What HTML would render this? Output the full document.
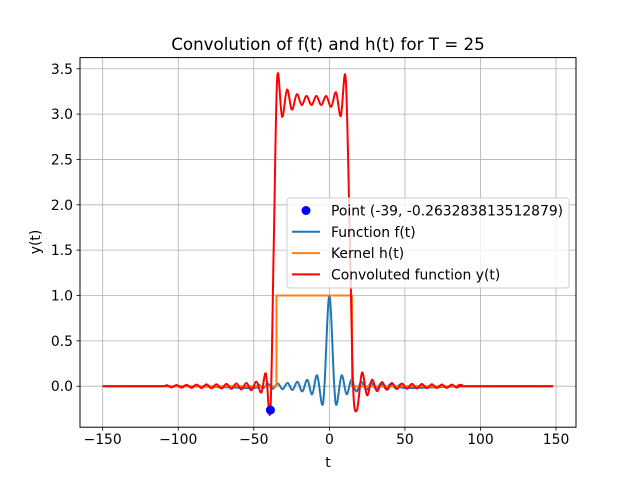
<!DOCTYPE html>
<html><head><meta charset="utf-8"><style>
body{margin:0;background:#fff}
svg text{font-family:"DejaVu Sans","Liberation Sans",sans-serif;fill:#000}
</style></head><body>
<svg id="chart" width="640" height="480" xmlns="http://www.w3.org/2000/svg">
<rect width="640" height="480" fill="#fff"/>
<text x="328" y="50" font-size="16.7" text-anchor="middle">Convolution of f(t) and h(t) for T = 25</text>
<g id="grid"></g><g id="series"></g>
<rect x="80" y="57.6" width="496" height="369.6" fill="none" stroke="#000" stroke-width="1"/>
<g id="ticks"></g>
<text x="328" y="467" font-size="13.9" text-anchor="middle">t</text>
<text transform="translate(40,242) rotate(-90)" font-size="13.9" text-anchor="middle">y(t)</text>
<g id="legend"></g>
</svg>
<script>
const xTicks=[-150,-100,-50,0,50,100,150];
const yTicks=[0.0,0.5,1.0,1.5,2.0,2.5,3.0,3.5];
const fT=[-150,-90,-50.4,-47.1,-43.9,-40.6,-37.4,-34.1,-30.9,-27.6,-24.4,-21.1,-17.9,-14.6,-11.4,-8.1,-4.9,-3.25,0,3.25,4.9,8.1,11.4,14.6,17.9,21.1,24.4,27.6,30.9,34.1,37.4,40.6,43.9,47.1,50.4,90,148];
const fY=[0,0,-0.02,0.022,-0.023,0.025,-0.028,0.03,-0.033,0.037,-0.042,0.049,-0.058,0.07,-0.09,0.12,-0.2,0,1,0,-0.2,0.12,-0.09,0.07,-0.058,0.049,-0.042,0.037,-0.033,0.03,-0.028,0.025,-0.023,0.022,-0.02,0,0];
const hT=[-150,-35,-35,15,15,148];
const hY=[0,0,1,1,0,0];
const yT=[-150,-111,-107.7,-104.4,-101.1,-97.8,-94.5,-91.2,-87.9,-84.6,-81.3,-78,-74.7,-71.4,-68.1,-64.8,-61.5,-58.2,-54.9,-51.6,-48.3,-45,-42,-39,-36.8,-34.5,-31.3,-28.0,-24.8,-21.5,-18.3,-15.1,-11.8,-8.6,-5.4,-2.1,1.2,4.4,7.6,10.8,13.4,15.7,18.3,21.6,24.9,28.2,31.5,34.8,38.1,41.4,44.7,48,51.3,54.6,57.9,61.2,64.5,67.8,71.1,74.4,77.7,81,84.3,87.6,90,148];
const yY=[0,0,0.012,-0.014,0.013,-0.016,0.015,-0.018,0.017,-0.02,0.02,-0.023,0.022,-0.026,0.026,-0.03,0.03,-0.036,0.036,-0.045,0.05,-0.07,0.14,-0.263,1.55,3.4,2.97,3.27,3.05,3.22,3.1,3.2,3.1,3.2,3.1,3.2,3.08,3.24,2.98,3.4,1.75,0,-0.26,0.15,-0.1,0.07,-0.055,0.045,-0.04,0.035,-0.032,0.03,-0.028,0.026,-0.025,0.024,-0.022,0.021,-0.02,0.019,-0.018,0.017,-0.016,0.015,0,0];
const pointT=[-39], pointY=[-0.263283813512879];
const NS="http://www.w3.org/2000/svg";
const X0=80,X1=576,Y0=427.2,Y1=57.6,xmin=-165,xmax=163.2,ymin=-0.452,ymax=3.623;
function sx(v){return X0+(v-xmin)/(xmax-xmin)*(X1-X0);}
function sy(v){return Y0-(v-ymin)/(ymax-ymin)*(Y0-Y1);}
function mk(tag,attrs,parent){const e=document.createElementNS(NS,tag);for(const k in attrs)e.setAttribute(k,attrs[k]);parent.appendChild(e);return e;}
const grid=document.getElementById('grid'),ticks=document.getElementById('ticks'),ser=document.getElementById('series'),leg=document.getElementById('legend');
xTicks.forEach(v=>{const x=sx(v);
 const g=mk('line',{x1:x,x2:x,y1:Y1,y2:Y0,stroke:'#b0b0b0','stroke-width':0.8},grid);
 
 
 mk('line',{x1:x,x2:x,y1:Y0,y2:Y0+3.5,stroke:'#000','stroke-width':0.8},ticks);
 const t=mk('text',{x:x,y:Y0+17,'font-size':13.9,'text-anchor':'middle'},ticks);t.textContent=(v<0?'\u2212'+(-v):v);
 
 });
yTicks.forEach(v=>{const y=sy(v);
 const g=mk('line',{x1:X0,x2:X1,y1:y,y2:y,stroke:'#b0b0b0','stroke-width':0.8},grid);
 
 
 mk('line',{x1:X0-3.5,x2:X0,y1:y,y2:y,stroke:'#000','stroke-width':0.8},ticks);
 const t=mk('text',{x:X0-7,y:y+5,'font-size':13.9,'text-anchor':'end'},ticks);t.textContent=v.toFixed(1);
 
 });
function smooth(T,Y){const p=T.map((t,i)=>[sx(t),sy(Y[i])]);let d='M'+p[0][0]+','+p[0][1];
 for(let i=0;i<p.length-1;i++){const a=p[Math.max(0,i-1)],b=p[i],c=p[i+1],e=p[Math.min(p.length-1,i+2)];
  const k=1/6;d+=' C'+(b[0]+(c[0]-a[0])*k)+','+(b[1]+(c[1]-a[1])*k)+' '+(c[0]-(e[0]-b[0])*k)+','+(c[1]-(e[1]-b[1])*k)+' '+c[0]+','+c[1];}
 return d;}
function poly(T,Y){return 'M'+T.map((t,i)=>sx(t)+','+sy(Y[i])).join(' L');}
const pf=mk('path',{d:smooth(fT,fY),fill:'none',stroke:'#1f77b4','stroke-width':2},ser);


const ph=mk('path',{d:poly(hT,hY),fill:'none',stroke:'#ff7f0e','stroke-width':2},ser);


const py=mk('path',{d:smooth(yT,yY),fill:'none',stroke:'#ff0000','stroke-width':2},ser);


const pt=mk('circle',{cx:sx(pointT[0]),cy:sy(pointY[0]),r:4.5,fill:'#0000ff'},ser);


const box=mk('rect',{x:287,y:198,width:282,height:90,rx:3,fill:'#fff','fill-opacity':0.8,stroke:'#ccc','stroke-width':1},leg);


const labels=['Point (-39, -0.263283813512879)','Function f(t)','Kernel h(t)','Convoluted function y(t)'];
const cols=['#0000ff','#1f77b4','#ff7f0e','#ff0000'];
labels.forEach((s,i)=>{const y=210.5+i*21.3;
 if(i===0){const c=mk('circle',{cx:306,cy:y,r:4.5,fill:cols[0]},leg);}
 else{const l=mk('line',{x1:292,x2:320,y1:y,y2:y,stroke:cols[i],'stroke-width':2},leg);}
 const t=mk('text',{x:331,y:y+5,'font-size':13.9},leg);t.textContent=s;
 
 });
</script>
</body></html>
